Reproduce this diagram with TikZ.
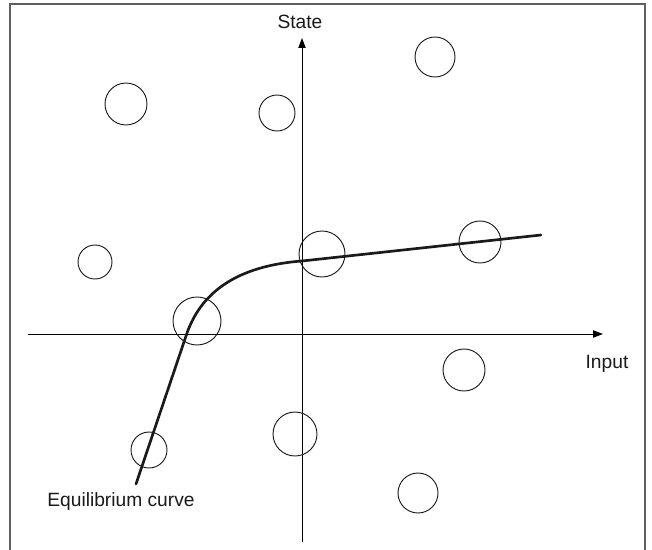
\documentclass[tikz,border=0pt]{standalone}
\usepackage{fontspec}
\setmainfont{Liberation Sans}
\usetikzlibrary{arrows.meta}
\definecolor{cFrame}{HTML}{5F5F5F}
\definecolor{cInk}{HTML}{1A1A1A}

\begin{document}
\begin{tikzpicture}[
  x=0.75pt, y=-0.75pt,
  frame/.style={draw=cFrame, line width=1.1pt},
  axis/.style={
    -{Triangle[length=7.5pt, width=5.5pt]}, draw=black, line width=0.75pt
  },
  blob/.style={
    circle, draw=cInk, line width=0.7pt, inner sep=0pt, minimum size=#1
  },
  equil/.style={draw=cInk, line width=2pt, line cap=round},
  lbl/.style={font=\fontsize{14.4}{16}\selectfont, text=cInk, anchor=base},
]
\useasboundingbox (0,0) rectangle (652,549);

% frame (bottom edge falls outside the page)
\draw[frame] (10,560) |- (645,4) -- (645,560);

% axes
\coordinate (xin) at (28,334);
\coordinate (xout) at (603,334);
\coordinate (yin) at (302,542);
\coordinate (yout) at (302,38);
\draw[axis] (xin) -- (xout);
\draw[axis] (yin) -- (yout);

\node[lbl] (state) at (300,29) {State};
\node[lbl] (input) at (607,368) {Input};

% operating points
\foreach \cx/\cy/\r [count=\i] in {126/104/21, 277/113/18, 435/57/20,
  95/262/17, 322/254/23, 480/242/21, 197/321/24, 464/370/21,
  295/434/22, 149/450/18, 418/493/20} {
  \node[blob=1.5*\r pt] (p\i) at (\cx,\cy) {};
}

% equilibrium curve
\coordinate (cbot) at (136,484);
\coordinate (cknee) at (186,336);
\coordinate (cmid) at (302,261);
\coordinate (ctop) at (541,235);
\draw[equil] (cbot) -- (cknee) .. controls (200,293) and (236,266) .. (cmid)
  -- (ctop);

\node[lbl] (eqlabel) at (121,506) {Equilibrium curve};

\end{tikzpicture}
\end{document}
